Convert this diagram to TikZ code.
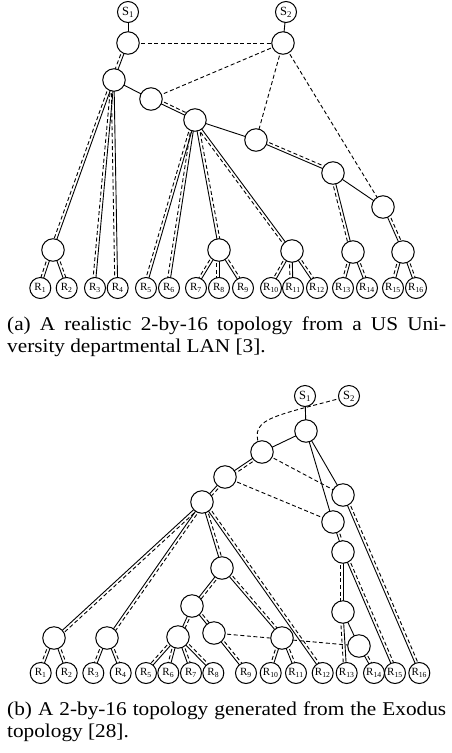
\documentclass[tikz,border=0pt]{standalone}
\usepackage{fontspec}
\setmainfont{Liberation Serif}
\newfontfamily\capfont[FakeStretch=1.09]{Liberation Serif}
\usetikzlibrary{calc}
\pgfdeclarelayer{bg}
\pgfsetlayers{bg,main}
\tikzset{
  rt/.style={circle,draw,line width=1pt,fill=white,minimum size=22.5pt,inner sep=0pt},
  lf/.style={circle,draw,line width=1pt,fill=white,minimum size=21pt,inner sep=0pt,font=\fontsize{11}{11}\selectfont},
  src/.style={circle,draw,line width=1pt,fill=white,minimum size=21pt,inner sep=0pt,font=\fontsize{12.5}{12.5}\selectfont},
  ln/.style={line width=0.9pt},
  dl/.style={line width=0.9pt,dash pattern=on 4pt off 2.6pt},
  captext/.style={anchor=base west,inner sep=0pt,font=\capfont\fontsize{19.5}{22}\selectfont},
}
\newcommand\dR[2]{%
  \draw[ln] (#1.center) -- (#2.center);
  \draw[dl] ($(#1.center)!2.8pt!90:(#2.center)$) -- ($(#2.center)!2.8pt!-90:(#1.center)$);}
\newcommand\dL[2]{%
  \draw[ln] (#1.center) -- (#2.center);
  \draw[dl] ($(#1.center)!2.8pt!-90:(#2.center)$) -- ($(#2.center)!2.8pt!90:(#1.center)$);}
\newcommand\solidE[2]{\draw[ln] (#1.center) -- (#2.center);}
\newcommand\dashE[2]{\draw[dl] (#1.center) -- (#2.center);}
\begin{document}
\begin{tikzpicture}[x=1pt,y=-1pt]
\useasboundingbox (0,0) rectangle (452,753);
% ---------------- (a) ----------------
\node[src] (aS1) at (128,12) {S\textsubscript{1}};
\node[src] (aS2) at (286,12) {S\textsubscript{2}};
\node[rt] (aA) at (128,43) {};
\node[rt] (aB) at (283,43) {};
\node[rt] (aC) at (114,80) {};
\node[rt] (aD) at (151,99) {};
\node[rt] (aE) at (195,120) {};
\node[rt] (aF) at (256,140) {};
\node[rt] (aG) at (333,173) {};
\node[rt] (aH) at (383,207) {};
\node[rt] (aP1) at (53,250) {};
\node[rt] (aP3) at (219,250) {};
\node[rt] (aP4) at (292,251) {};
\node[rt] (aP5) at (353,252) {};
\node[rt] (aP6) at (403,252) {};
\foreach \i/\x in {1/40.3,2/66.7,3/95,4/117.7,5/146,6/169,7/196,8/219,9/243,10/271,11/293,12/317,13/343,14/367,15/393,16/416}
  \node[lf] (aR\i) at (\x,288) {R\textsubscript{\i}};
\begin{pgfonlayer}{bg}
\solidE{aS1}{aA} \solidE{aS2}{aB}
\dashE{aA}{aB} \dashE{aB}{aD} \dashE{aB}{aF} \dashE{aB}{aH}
\dL{aA}{aC}
\solidE{aC}{aD} \solidE{aE}{aF} \solidE{aG}{aH}
\dL{aC}{aP1} \dL{aC}{aR3} \dL{aC}{aR4}
\dR{aD}{aE}
\dL{aE}{aR5} \dL{aE}{aR6} \dR{aE}{aP3} \dL{aE}{aP4}
\dR{aF}{aG}
\dL{aG}{aP5} \dR{aH}{aP6}
\dL{aP1}{aR1} \dR{aP1}{aR2}
\dL{aP3}{aR7} \dL{aP3}{aR8} \dR{aP3}{aR9}
\dL{aP4}{aR10} \dL{aP4}{aR11} \dR{aP4}{aR12}
\dL{aP5}{aR13} \dR{aP5}{aR14}
\dL{aP6}{aR15} \dR{aP6}{aR16}
\end{pgfonlayer}
\node[captext] (capa1) at (7,330) {\makebox[439pt][s]{(a) A realistic 2-by-16 topology from a US Uni-}};
\node[captext] (capa2) at (7,352) {versity departmental LAN [3].};
% ---------------- (b) ----------------
\node[src] (bS1) at (305,396) {S\textsubscript{1}};
\node[src] (bS2) at (349,396) {S\textsubscript{2}};
\node[rt] (bT) at (306,431) {};
\node[rt] (bU) at (262,452) {};
\node[rt] (bV) at (225,477) {};
\node[rt] (bW) at (202,502) {};
\node[rt] (bX) at (343,495) {};
\node[rt] (bY) at (333,522) {};
\node[rt] (bZ) at (343,552) {};
\node[rt] (bQ) at (343,612) {};
\node[rt] (bQ2) at (359,646) {};
\node[rt] (bM) at (222,568) {};
\node[rt] (bN) at (192,606) {};
\node[rt] (bO) at (214,633) {};
\node[rt] (bP) at (178,637) {};
\node[rt] (bL1) at (54,638) {};
\node[rt] (bL2) at (107,638) {};
\node[rt] (bL3) at (282,638) {};
\foreach \i/\x in {1/40.7,2/66.7,3/93.3,4/120.7,5/146,6/168.3,7/191,8/213.3,9/246,10/270.7,11/296,12/322.7,13/346.7,14/374,15/395,16/419.3}
  \node[lf] (bR\i) at (\x,673) {R\textsubscript{\i}};
\begin{pgfonlayer}{bg}
\solidE{bS1}{bT} \solidE{bT}{bU} \solidE{bT}{bY} \solidE{bT}{bX} \solidE{bQ}{bQ2}
\draw[dl] (bS2.center) .. controls (268,418) and (246,418) .. (bU.center);
\dashE{bU}{bX} \dashE{bV}{bY} \dashE{bO}{bQ2}
\dR{bU}{bV} \dR{bV}{bW}
\dR{bW}{bL1} \dR{bW}{bL2} \dR{bW}{bM} \dR{bW}{bR12}
\dR{bM}{bN} \dR{bM}{bL3}
\dR{bN}{bP} \dR{bN}{bO}
\dL{bP}{bR5} \dL{bP}{bR6} \dR{bP}{bR7} \dR{bP}{bR8}
\dR{bO}{bR9}
\dL{bL1}{bR1} \dR{bL1}{bR2}
\dL{bL2}{bR3} \dR{bL2}{bR4}
\dL{bL3}{bR10} \dR{bL3}{bR11}
\dR{bX}{bR16}
\dR{bY}{bZ} \dL{bZ}{bQ} \dR{bZ}{bR15}
\dL{bQ}{bR13} \dR{bQ2}{bR14}
\end{pgfonlayer}
\node[captext] (capb1) at (7,715) {\makebox[439pt][s]{(b) A 2-by-16 topology generated from the Exodus}};
\node[captext] (capb2) at (7,737) {topology [28].};
\end{tikzpicture}
\end{document}
